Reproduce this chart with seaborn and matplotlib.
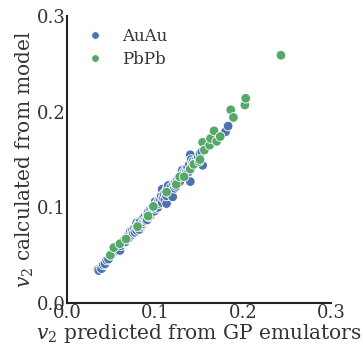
import matplotlib
matplotlib.use("Agg")
import matplotlib.pyplot as plt
import seaborn as sns
import pandas as pd

# AuAu: GP-emulator prediction vs model calculation
auau_pred = [0.035, 0.036, 0.039, 0.041, 0.043, 0.045, 0.047, 0.049, 0.051, 0.053,
             0.055, 0.057, 0.058, 0.060, 0.061, 0.062, 0.064, 0.065, 0.066, 0.068,
             0.069, 0.070, 0.071, 0.072, 0.073, 0.074, 0.075, 0.076, 0.077, 0.078,
             0.079, 0.079, 0.080, 0.081, 0.082, 0.083, 0.084, 0.085, 0.086, 0.086,
             0.087, 0.088, 0.089, 0.090, 0.091, 0.091, 0.092, 0.093, 0.094, 0.095,
             0.096, 0.097, 0.098, 0.099, 0.100, 0.100, 0.101, 0.102, 0.103, 0.104,
             0.105, 0.106, 0.107, 0.108, 0.108, 0.109, 0.110, 0.111, 0.112, 0.113,
             0.113, 0.114, 0.115, 0.116, 0.117, 0.118, 0.119, 0.120, 0.121, 0.122,
             0.123, 0.124, 0.125, 0.126, 0.127, 0.128, 0.129, 0.130, 0.131, 0.132,
             0.133, 0.134, 0.135, 0.136, 0.137, 0.138, 0.139, 0.140, 0.140, 0.141,
             0.142, 0.143, 0.145, 0.147, 0.149, 0.151, 0.153, 0.154, 0.180, 0.183]
auau_model = [0.035, 0.034, 0.036, 0.040, 0.041, 0.045, 0.046, 0.050, 0.051, 0.054,
              0.054, 0.055, 0.058, 0.055, 0.060, 0.063, 0.063, 0.066, 0.064, 0.067,
              0.070, 0.068, 0.072, 0.075, 0.071, 0.076, 0.073, 0.078, 0.074, 0.080,
              0.084, 0.076, 0.079, 0.083, 0.077, 0.085, 0.080, 0.082, 0.088, 0.083,
              0.085, 0.090, 0.087, 0.086, 0.092, 0.087, 0.095, 0.090, 0.097, 0.092,
              0.098, 0.095, 0.100, 0.096, 0.106, 0.099, 0.101, 0.104, 0.100, 0.107,
              0.104, 0.108, 0.112, 0.119, 0.105, 0.110, 0.114, 0.108, 0.116, 0.104,
              0.112, 0.120, 0.123, 0.115, 0.118, 0.121, 0.117, 0.111, 0.124, 0.120,
              0.126, 0.122, 0.128, 0.125, 0.131, 0.127, 0.133, 0.136, 0.139, 0.134,
              0.137, 0.135, 0.140, 0.138, 0.142, 0.137, 0.145, 0.155, 0.127, 0.150,
              0.146, 0.148, 0.147, 0.150, 0.152, 0.156, 0.158, 0.144, 0.179, 0.185]

# PbPb
pbpb_pred = [0.049, 0.053, 0.060, 0.067, 0.080, 0.092, 0.098, 0.113, 0.124, 0.128,
             0.133, 0.140, 0.144, 0.150, 0.151, 0.154, 0.156, 0.162, 0.163, 0.167,
             0.170, 0.174, 0.186, 0.189, 0.202, 0.203, 0.243]
pbpb_model = [0.050, 0.058, 0.062, 0.067, 0.080, 0.091, 0.101, 0.116, 0.124, 0.132,
              0.132, 0.140, 0.145, 0.148, 0.150, 0.168, 0.160, 0.165, 0.172, 0.180,
              0.169, 0.174, 0.202, 0.194, 0.207, 0.214, 0.259]

systems = ["AuAu", "PbPb"]

df = pd.DataFrame({
    "pred": auau_pred + pbpb_pred,
    "model": auau_model + pbpb_model,
    "system": [systems[0]] * len(auau_pred) + [systems[1]] * len(pbpb_pred),
})

sns.set_theme(style="white")
plt.rcParams["font.family"] = ["DejaVu Serif"]
plt.rcParams["mathtext.fontset"] = "dejavuserif"

fig = plt.figure(figsize=(3.63, 3.48), dpi=100)
ax = fig.add_axes([0.185, 0.129, 0.727, 0.825])

sns.scatterplot(data=df, x="pred", y="model", hue="system",
                palette={"AuAu": "#4C72B0", "PbPb": "#55A868"},
                s=48, edgecolor="white", linewidth=0.6, ax=ax, legend=True)

ax.set_xlim(0, 0.3)
ax.set_ylim(0, 0.3)
ax.set_xticks([0.0, 0.1, 0.2, 0.3])
ax.set_yticks([0.0, 0.1, 0.2, 0.3])
ax.set_xticklabels(["0.0", "0.1", "0.2", "0.3"])
ax.set_yticklabels(["0.0", "0.1", "0.2", "0.3"])
ax.tick_params(direction="in", length=2, width=0.8, colors="#333333",
               labelsize=13, pad=1, labelcolor="#333333")
ax.set_xlabel(r"$v_2$ predicted from GP emulators", fontsize=14.5, color="#333333", labelpad=0)
ax.set_ylabel(r"$v_2$ calculated from model", fontsize=14.5, color="#333333", labelpad=1)

for side in ["top", "right"]:
    ax.spines[side].set_visible(False)
for side in ["left", "bottom"]:
    ax.spines[side].set_color("#222222")
    ax.spines[side].set_linewidth(1.5)

leg = ax.legend(loc="upper left", frameon=False, fontsize=12, markerscale=0.8,
                labelspacing=0.35, handletextpad=0.6, borderaxespad=0.3,
                bbox_to_anchor=(0.0, 1.0))
for t in leg.get_texts():
    t.set_color("#333333")

fig.savefig("out.png", dpi=100)
